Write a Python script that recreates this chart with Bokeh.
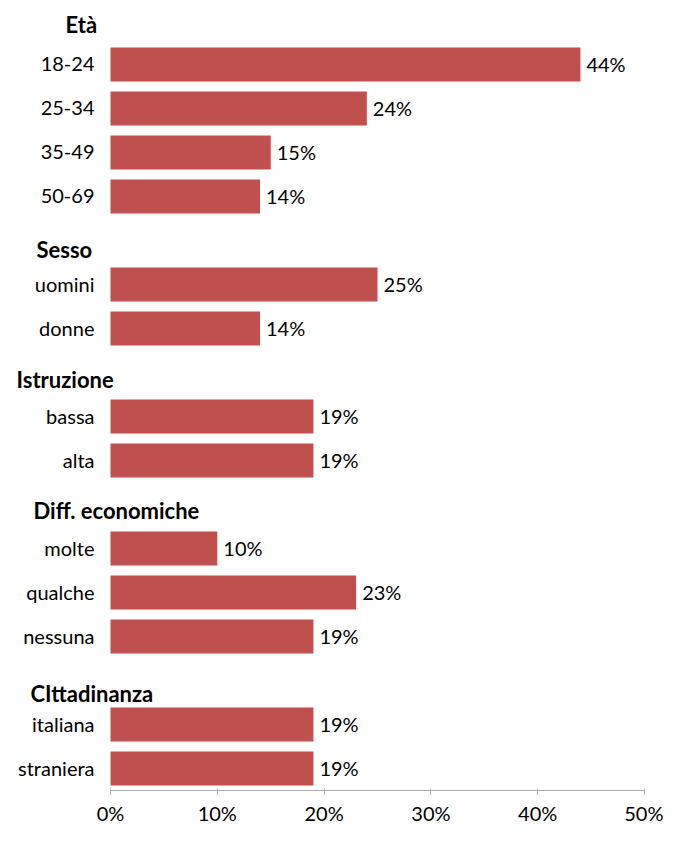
from bokeh.plotting import figure
from bokeh.models import ColumnDataSource, Range1d, FixedTicker
from bokeh.embed import file_html
from bokeh.resources import INLINE
from bokeh.core.properties import value

# ---- data ----
groups = ["Età", "Sesso", "Istruzione", "Diff. economiche", "CIttadinanza"]
group_sizes = [4, 2, 2, 3, 2]
categories = ["18-24", "25-34", "35-49", "50-69",
              "uomini", "donne",
              "bassa", "alta",
              "molte", "qualche", "nessuna",
              "italiana", "straniera"]
values = [44, 24, 15, 14, 25, 14, 19, 19, 10, 23, 19, 19, 19]
x_ticks = [0, 10, 20, 30, 40, 50]
tick_labels = ["0%", "10%", "20%", "30%", "40%", "50%"]

# ---- row layout (one slot for each header and each bar) ----
bar_slots, header_next_slots = [], []
s = 0
for n in group_sizes:
    s += 1
    header_next_slots.append(s)
    for _ in range(n):
        bar_slots.append(s)
        s += 1

# ---- style ----
BAR = "#C0504D"
FONT = "Lato"
W, H = 663, 827
X0_PX, X50_PX = 110, 644           # pixel positions of 0% and 50%
PX_PER_UNIT = (X50_PX - X0_PX) / 50.0
header_x_off = [-45, -74, -94, -77, -80]
header_y_off = [-40, -35, -37, -38, -31]

bars = ColumnDataSource(dict(
    y=bar_slots, val=values, cat=categories,
    lab=[f"{v}%" for v in values]))
heads = ColumnDataSource(dict(
    y=header_next_slots, txt=groups, xo=header_x_off, yo=header_y_off))

p = figure(width=W, height=H, output_backend="svg", toolbar_location=None,
           x_range=Range1d(-X0_PX / PX_PER_UNIT, (W - X0_PX) / PX_PER_UNIT),
           y_range=Range1d(17.5, -0.4545),
           y_axis_location=None,
           min_border_left=0, min_border_right=0, min_border_top=0,
           min_border_bottom=34)
p.grid.visible = False
p.outline_line_color = None
p.background_fill_color = "white"

p.hbar(y="y", left=0, right="val", height=0.77, source=bars,
       fill_color=BAR, line_color=None)

p.text(x=0, y="y", text="cat", source=bars, x_offset=-16,
       text_align="right", text_baseline="middle",
       text_font=value(FONT), text_font_size="20px", text_color="#000000")

p.text(x="val", y="y", text="lab", source=bars, x_offset=6,
       text_align="left", text_baseline="middle",
       text_font=value(FONT), text_font_size="20px", text_color="#000000")

p.text(x=0, y="y", text="txt", source=heads, x_offset="xo", y_offset="yo",
       text_align="left", text_baseline="middle",
       text_font=value(FONT), text_font_style="bold",
       text_font_size="22px", text_color="#000000")

ax = p.xaxis[0]
ax.ticker = FixedTicker(ticks=x_ticks)
ax.major_label_overrides = {t: l for t, l in zip(x_ticks, tick_labels)}
ax.bounds = (0, 50)
ax.minor_tick_line_color = None
ax.major_tick_in = 2
ax.major_tick_out = 4
ax.axis_line_color = "#ADADAD"
ax.major_tick_line_color = "#ADADAD"
ax.major_label_text_font = FONT
ax.major_label_text_font_size = "20px"
ax.major_label_text_color = "#000000"
ax.major_label_standoff = 6

open("out.html", "w").write(file_html(p, INLINE))
